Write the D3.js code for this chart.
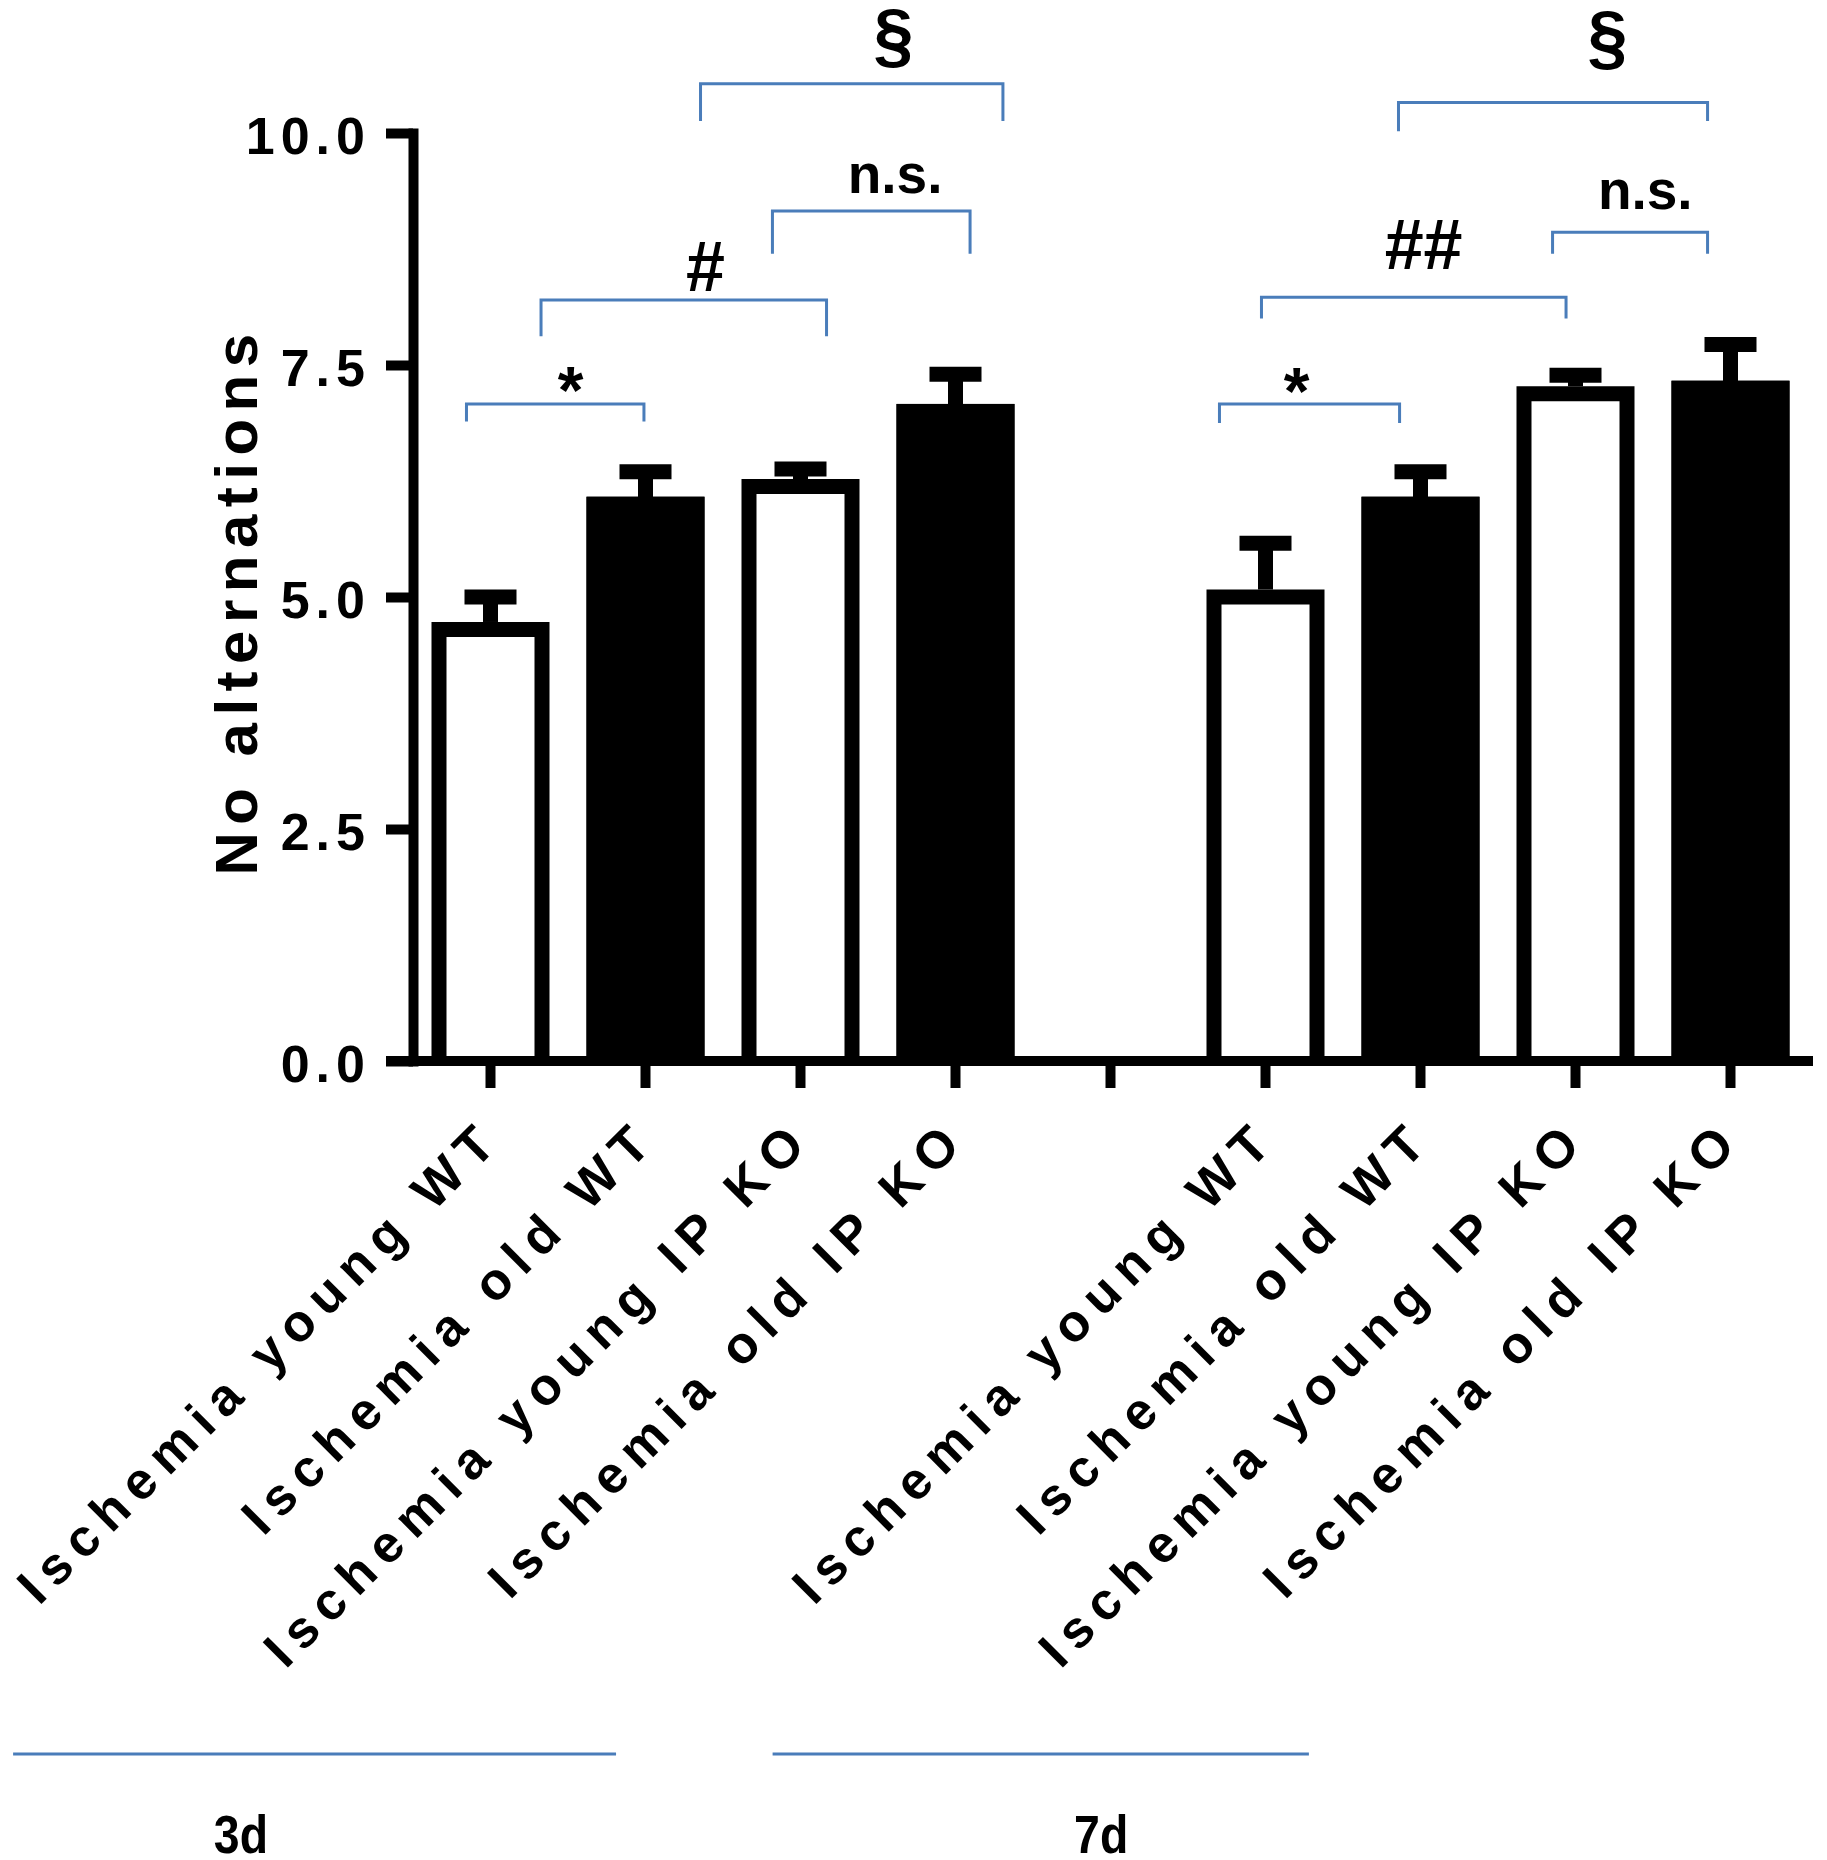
<!DOCTYPE html>
<html>
<head>
<meta charset="utf-8">
<script src="https://cdn.jsdelivr.net/npm/d3@7"></script>
<style>
  body { margin: 0; background: #fff; }
  text { font-family: "Liberation Sans", Arial, sans-serif; font-weight: bold; fill: #000; }
</style>
</head>
<body>
<svg id="chart" width="1827" height="1860"></svg>
<script>
'use strict'
// 数据：两组（3d / 7d），中间空一格
var labels = ["Ischemia young WT", "Ischemia old WT", "Ischemia young IP KO", "Ischemia old IP KO", "",
    "Ischemia young WT", "Ischemia old WT", "Ischemia young IP KO", "Ischemia old IP KO"];
var means = [4.65, 6.00, 6.19, 7.00, null, 5.00, 6.00, 7.19, 7.25];
var sems = [0.35, 0.35, 0.19, 0.40, null, 0.58, 0.35, 0.20, 0.47];
var yTicks = [0, 2.5, 5, 7.5, 10];
var groupNames = ["3d", "7d"];

// 显著性标注：from/to 以柱子序号为单位，level/leg/textY 为数值
var sigText = ["*", "#", "n.s.", "§", "*", "##", "n.s.", "§"];
var sigFrom = [-0.155, 0.326, 1.819, 1.355, 4.703, 4.974, 6.852, 5.858];
var sigTo = [0.99, 2.168, 3.094, 3.306, 5.865, 6.939, 7.852, 7.852];
var sigLevel = [7.08, 8.20, 9.16, 10.53, 7.08, 8.23, 8.93, 10.33];
var sigLegL = [6.89, 7.81, 8.70, 10.13, 6.875, 8.00, 8.70, 10.02];
var sigLegR = [6.89, 7.81, 8.70, 10.13, 6.875, 8.00, 8.70, 10.13];
var sigTextX = [0.516, 1.387, 2.61, 2.6, 5.2, 6.02, 7.45, 7.206];
var sigTextY = [6.98, 8.30, 9.35, 10.79, 6.97, 8.53, 9.18, 10.77];

// 分组下划线（柱子序号单位）
var groupLineFrom = [-3.08, 1.82];
var groupLineTo = [0.81, 5.28];
var groupTextX = [-1.61, 3.94];

var svg = d3.select("#chart");
var blue = "#4a7dba";
var plotL = 413, plotR = 1808, plotT = 133, plotB = 1061;

var idx = d3.range(labels.length);
var x = d3.scaleBand().domain(idx).range([plotL, plotR])
    .paddingInner(0.2387).paddingOuter(0.2387 / 2);
var y = d3.scaleLinear().domain([0, 10]).range([plotB, plotT]);
// 柱子序号 -> 像素中心
var slotX = d3.scaleLinear().domain([0, 1])
    .range([x(0) + x.bandwidth() / 2, x(1) + x.bandwidth() / 2]);

var bw = x.bandwidth();
var sw = 15;

// 误差线
var barData = idx.filter(function (i) { return means[i] !== null; });
var err = svg.append("g");
err.selectAll("line.stem").data(barData).enter().append("line")
    .attr("x1", function (i) { return slotX(i); })
    .attr("x2", function (i) { return slotX(i); })
    .attr("y1", function (i) { return y(means[i]); })
    .attr("y2", function (i) { return y(means[i] + sems[i]); })
    .attr("stroke", "#000").attr("stroke-width", sw);
err.selectAll("line.cap").data(barData).enter().append("line")
    .attr("x1", function (i) { return slotX(i) - 26; })
    .attr("x2", function (i) { return slotX(i) + 26; })
    .attr("y1", function (i) { return y(means[i] + sems[i]); })
    .attr("y2", function (i) { return y(means[i] + sems[i]); })
    .attr("stroke", "#000").attr("stroke-width", sw);

// 柱子：填充 + 三边框（底边被 x 轴盖住）
var bars = svg.append("g");
bars.selectAll("rect").data(barData).enter().append("rect")
    .attr("x", function (i) { return x(i); })
    .attr("width", bw)
    .attr("y", function (i) { return y(means[i]) - sw / 2; })
    .attr("height", function (i) { return y(0) - y(means[i]) + sw / 2; })
    .attr("fill", function (i) { return labels[i].indexOf("old") >= 0 ? "#000" : "#fff"; });
bars.selectAll("path").data(barData).enter().append("path")
    .attr("d", function (i) {
        var x0 = x(i) + sw / 2, x1 = x(i) + bw - sw / 2;
        return "M" + x0 + "," + y(0) + "V" + y(means[i]) + "H" + x1 + "V" + y(0);
    })
    .attr("fill", "none").attr("stroke", "#000").attr("stroke-width", sw)
    .attr("stroke-linejoin", "miter");

// y 轴
var yAxis = svg.append("g").attr("transform", "translate(" + plotL + ",0)")
    .call(d3.axisLeft(y).tickValues(yTicks).tickFormat(d3.format(".1f"))
        .tickSize(27).tickSizeOuter(0).tickPadding(15));
yAxis.select(".domain").attr("stroke-width", 10).attr("stroke-linecap", "square");
yAxis.selectAll(".tick line").attr("stroke-width", 10);
yAxis.selectAll(".tick text")
    .attr("dy", "0.4em")
    .style("font-size", "52px").style("letter-spacing", "6px");
yAxis.attr("font-family", null).attr("font-size", null);

// x 轴
var xAxis = svg.append("g").attr("transform", "translate(0," + plotB + ")")
    .call(d3.axisBottom(x).tickFormat(function (i) { return labels[i]; })
        .tickSize(27).tickSizeOuter(0));
xAxis.select(".domain").remove();
xAxis.append("line")
    .attr("x1", plotL - 27).attr("x2", plotR + 5)
    .attr("stroke", "#000").attr("stroke-width", 10);
xAxis.selectAll(".tick line").attr("stroke-width", 10);
xAxis.selectAll(".tick text")
    .attr("y", null).attr("dy", null)
    .attr("text-anchor", "end")
    .attr("transform", "translate(14,80) rotate(-45)")
    .style("font-size", "52px").style("letter-spacing", "10px");
xAxis.attr("font-family", null).attr("font-size", null);

// y 轴标题
svg.append("text")
    .attr("transform", "translate(257,601) rotate(-90)")
    .attr("text-anchor", "middle")
    .style("font-size", "60px").style("letter-spacing", "7.5px")
    .text("No alternations");

// 显著性括号
var sig = svg.append("g");
sigText.forEach(function (t, k) {
    var x1 = slotX(sigFrom[k]), x2 = slotX(sigTo[k]);
    sig.append("path")
        .attr("d", "M" + x1 + "," + y(sigLegL[k]) + "V" + y(sigLevel[k]) +
            "H" + x2 + "V" + y(sigLegR[k]))
        .attr("fill", "none").attr("stroke", blue).attr("stroke-width", 3);
    var size = t === "n.s." ? 55 : (t === "§" ? 72 : (t === "*" ? 66 : 70));
    sig.append("text")
        .attr("x", slotX(sigTextX[k]))
        .attr("y", y(sigTextY[k]))
        .attr("text-anchor", "middle")
        .style("font-size", size + "px")
        .text(t);
});

// 分组
groupNames.forEach(function (g, k) {
    svg.append("line")
        .attr("x1", slotX(groupLineFrom[k])).attr("x2", slotX(groupLineTo[k]))
        .attr("y1", 1754).attr("y2", 1754)
        .attr("stroke", blue).attr("stroke-width", 3);
    svg.append("text")
        .attr("transform", "translate(" + slotX(groupTextX[k]) + ",1853) scale(0.86,1)")
        .attr("text-anchor", "middle")
        .style("font-size", "54px")
        .text(g);
});
</script>
</body>
</html>
